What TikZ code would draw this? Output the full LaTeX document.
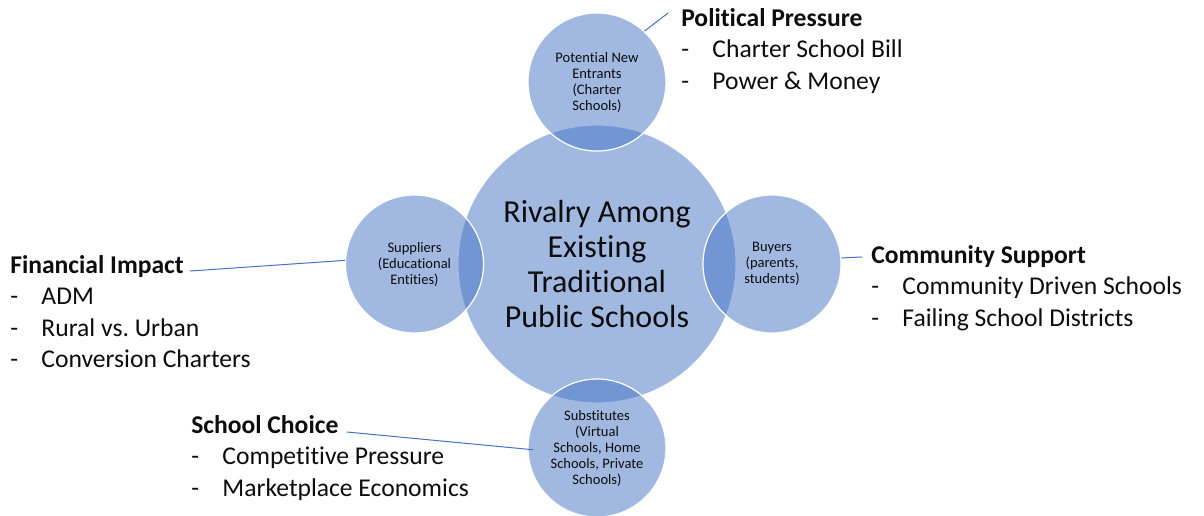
\documentclass[tikz,border=0pt]{standalone}
\usepackage{fontspec}
\setmainfont{Carlito}[Ligatures=NoCommon]
\definecolor{accent}{HTML}{4472C4}
\definecolor{ink}{HTML}{0D0D0D}
\newcommand{\bulletline}[1]{\makebox[23.4pt][l]{-}#1}
\frenchspacing
\begin{document}
\begin{tikzpicture}[x=0.75pt,y=-0.75pt,
  disc/.style={circle,fill=accent,fill opacity=0.5,text opacity=1,
    draw=white,draw opacity=1,line width=0.9pt,inner sep=0pt,
    align=center,text=ink},
  hub/.style={disc,minimum size=208.5pt,font=\fontsize{24}{26.25}\selectfont},
  force/.style={disc,minimum size=103.5pt,font=\fontsize{10.9}{12}\selectfont},
  note/.style={anchor=base west,inner sep=0pt,align=left,text=ink,
    font=\fontsize{19.2}{23.6}\selectfont},
  link/.style={draw=accent,line width=0.75pt}]
\useasboundingbox (0,0) rectangle (1204,515);
% five forces
\node[hub]   (rivalry)    at (597,264) {Rivalry Among\\Existing\\Traditional\\Public Schools};
\node[force] (entrants)   at (597,82)  {Potential New\\Entrants\\(Charter\\Schools)};
\node[force] (suppliers)  at (414.5,264) {Suppliers\\(Educational\\Entities)};
\node[force] (buyers)     at (772,264) {Buyers\\(parents,\\students)};
\node[force] (substitutes) at (597,448) {Substitutes\\(Virtual\\Schools, Home\\Schools, Private\\Schools)};
% annotations (placed by the baseline of their last line)
\node[note] (political) at (681,89) {\textbf{Political Pressure}\\\bulletline{Charter School Bill}\\\bulletline{Power \& Money}};
\node[note] (financial) at (10,367.5) {\textbf{Financial Impact}\\\bulletline{ADM}\\\bulletline{Rural vs.\ Urban}\\\bulletline{Conversion Charters}};
\node[note] (community) at (871,326) {\textbf{Community Support}\\\bulletline{Community Driven Schools}\\\bulletline{Failing School Districts}};
\node[note] (choice) at (191,496) {\textbf{School Choice}\\\bulletline{Competitive Pressure}\\\bulletline{Marketplace Economics}};
% leader lines
\coordinate (politicalEnd) at (668,13);
\coordinate (financialEnd) at (190,271);
\coordinate (communityEnd) at (862,257);
\coordinate (choiceEnd) at (347,432);
\draw[link] (entrants.47.3) -- (politicalEnd);
\draw[link] (financialEnd) -- (suppliers.177.5);
\draw[link] (buyers.5.8) -- (communityEnd);
\draw[link,shorten >=-4.5pt] (choiceEnd) -- (substitutes.181);
\end{tikzpicture}
\end{document}
